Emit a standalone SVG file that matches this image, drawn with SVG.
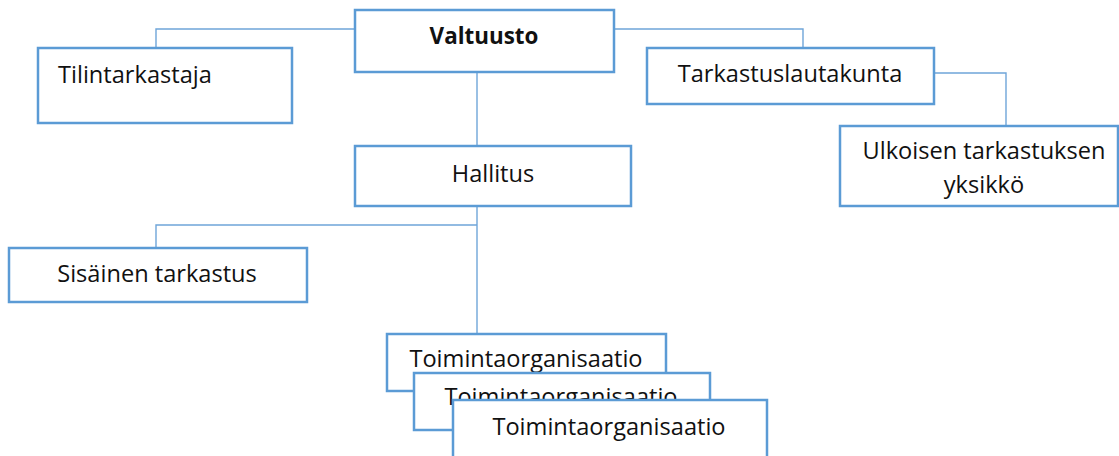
<svg xmlns="http://www.w3.org/2000/svg" width="1119" height="456" viewBox="0 0 1119 456">
  <style>
    .box { fill: #ffffff; stroke: #5b9bd5; stroke-width: 2.5; }
    .link { fill: none; stroke: #6fa5d9; stroke-width: 1.4; }
    .lbl { font-family: "Open Sans", "Liberation Sans", sans-serif; font-size: 23.6px; fill: #111111; text-anchor: middle; }
    .bold { font-weight: bold; font-size: 22.4px; }
  </style>
  <rect width="1119" height="456" fill="#ffffff"/>

  <!-- connectors -->
  <g id="connectors">
    <polyline class="link" points="355,29 156,29 156,48"/>
    <polyline class="link" points="614,29 803,29 803,48"/>
    <polyline class="link" points="934,73 1006,73 1006,125"/>
    <line class="link" x1="477" y1="72" x2="477" y2="146"/>
    <line class="link" x1="477" y1="206" x2="477" y2="334"/>
    <polyline class="link" points="477,225 156,225 156,248"/>
  </g>

  <g id="valtuusto">
    <rect class="box" x="355" y="10" width="259" height="62"/>
    <text class="lbl bold" x="484" y="44">Valtuusto</text>
  </g>

  <g id="tilintarkastaja">
    <rect class="box" x="38" y="48" width="254" height="75"/>
    <text class="lbl" x="58" y="83" style="text-anchor:start">Tilintarkastaja</text>
  </g>

  <g id="tarkastuslautakunta">
    <rect class="box" x="647" y="48" width="287" height="56"/>
    <text class="lbl" x="790" y="82">Tarkastuslautakunta</text>
  </g>

  <g id="ulkoinen-tarkastus">
    <rect class="box" x="840" y="126" width="278" height="80"/>
    <text class="lbl" x="984" y="159">Ulkoisen tarkastuksen</text>
    <text class="lbl" x="984" y="193">yksikkö</text>
  </g>

  <g id="hallitus">
    <rect class="box" x="355" y="146" width="276" height="60"/>
    <text class="lbl" x="493" y="182">Hallitus</text>
  </g>

  <g id="sisainen-tarkastus">
    <rect class="box" x="9" y="248" width="298" height="54"/>
    <text class="lbl" x="157" y="282">Sisäinen tarkastus</text>
  </g>

  <!-- stacked operating units -->
  <g id="toiminta-1">
    <rect class="box" x="387" y="334" width="279" height="57"/>
    <text class="lbl" x="526" y="367">Toimintaorganisaatio</text>
  </g>
  <g id="toiminta-2">
    <rect class="box" x="414" y="373" width="296" height="57"/>
    <text class="lbl" x="561" y="405">Toimintaorganisaatio</text>
  </g>
  <g id="toiminta-3">
    <rect class="box" x="453" y="400" width="314" height="70"/>
    <text class="lbl" x="609" y="435">Toimintaorganisaatio</text>
  </g>
</svg>
